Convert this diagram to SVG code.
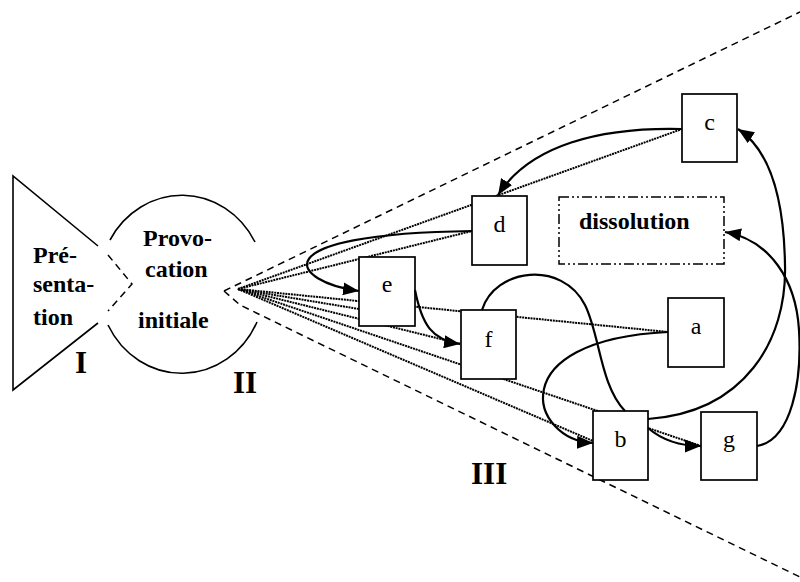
<svg xmlns="http://www.w3.org/2000/svg" width="800" height="582" viewBox="0 0 800 582">
<defs>
<marker id="ah" markerWidth="17" markerHeight="13" refX="16" refY="6.5" orient="auto" markerUnits="userSpaceOnUse"><path d="M0,0 L16,6.5 L0,13 z" fill="#000"/></marker>
<style>
.box{fill:#fff;stroke:#000;stroke-width:1.7}
.lbl{font-family:"Liberation Serif","Times New Roman",serif;font-size:24px;fill:#000;text-anchor:middle}
.bold{font-family:"Liberation Serif","Times New Roman",serif;font-size:24px;font-weight:bold;fill:#000}
.num{font-family:"Liberation Serif","Times New Roman",serif;font-size:31px;font-weight:bold;fill:#000}
.dash{fill:none;stroke:#000;stroke-width:1.5;stroke-dasharray:7,5}
.ray{fill:none;stroke:#000;stroke-width:2;stroke-dasharray:2,0.8}
.solid{fill:none;stroke:#000;stroke-width:1.6}
.arr{fill:none;stroke:#000;stroke-width:2.2;marker-end:url(#ah)}
</style>
</defs>
<rect width="800" height="582" fill="#fff"/>

<g id="phase-I">
<polyline class="solid" points="98,246 13,176 13,390 98,323"/>
<polyline class="dash" points="108,255 132,284 108,311"/>
<text class="bold" x="33" y="263">Pré-</text>
<text class="bold" x="33" y="292">senta-</text>
<text class="bold" x="33" y="325">tion</text>
<text class="num" x="75" y="373">I</text>
</g>

<g id="phase-II">
<path class="solid" d="M110,240 A83,89 0 0 1 255,242"/>
<path class="solid" d="M108,325 A83,89 0 0 0 257,322"/>
<text class="bold" x="143" y="246">Provo-</text>
<text class="bold" x="145" y="277">cation</text>
<text class="bold" x="138" y="328">initiale</text>
<text class="num" x="233" y="393">II</text>
</g>

<g id="phase-III">
<line class="dash" x1="224" y1="291" x2="800" y2="12"/>
<polyline class="dash" points="224,291 240,305 800,577"/>
<text class="num" x="471" y="484">III</text>
</g>

<g id="connectors">
<g id="rays">
<line class="ray" x1="238" y1="289" x2="682" y2="129"/>
<line class="ray" x1="238" y1="289" x2="472" y2="231"/>
<line class="ray" x1="238" y1="289" x2="359" y2="309"/>
<line class="ray" x1="238" y1="289" x2="668" y2="332"/>
<line class="ray" x1="238" y1="289" x2="461" y2="344"/>
<line class="ray" x1="238" y1="289" x2="701" y2="446"/>
<line class="ray" x1="238" y1="289" x2="593" y2="441"/>
</g>
</g>

<g id="node-c"><rect class="box" x="682" y="94" width="55" height="68"/><text class="lbl" x="709.5" y="130">c</text></g>
<g id="node-d"><rect class="box" x="472" y="196" width="55" height="69"/><text class="lbl" x="499.5" y="232">d</text></g>
<g id="node-e"><rect class="box" x="359" y="257" width="56" height="69"/><text class="lbl" x="387" y="292">e</text></g>
<g id="node-f"><rect class="box" x="461" y="310" width="55" height="69"/><text class="lbl" x="488.5" y="347">f</text></g>
<g id="node-a"><rect class="box" x="668" y="298" width="56" height="69"/><text class="lbl" x="696" y="334">a</text></g>
<g id="node-b"><rect class="box" x="593" y="411" width="55" height="69"/><text class="lbl" x="620.5" y="447">b</text></g>
<g id="node-g"><rect class="box" x="701" y="412" width="56" height="68"/><text class="lbl" x="729" y="447">g</text></g>
<g id="node-dissolution"><rect x="559" y="197" width="165" height="67" fill="#fff" stroke="#000" stroke-width="1.5" stroke-dasharray="10,3,2,3,2,3"/><text class="bold" x="579" y="229">dissolution</text></g>

<g id="arrows">
<path class="arr" d="M682,129 C600,127 530,145 498,195"/>
<path class="arr" d="M472,231 C255,234 292,282 359,291"/>
<path class="arr" d="M415,290 C422,325 432,340 460,344"/>
<path class="arr" d="M668,332 C500,340 530,440 593,443"/>
<path class="solid" style="stroke-width:2.2" d="M482,310 C495,268 562,260 585,305 C600,335 600,385 625,411"/>
<path class="arr" d="M648,419 C745,412 787,340 785,265 C784,200 770,150 738,129"/>
<path class="arr" d="M648,428 C662,440 678,446 701,446"/>
<path class="arr" d="M757,446 C792,440 802,380 799,330 C796,280 770,240 725,232"/>
</g>
</svg>
